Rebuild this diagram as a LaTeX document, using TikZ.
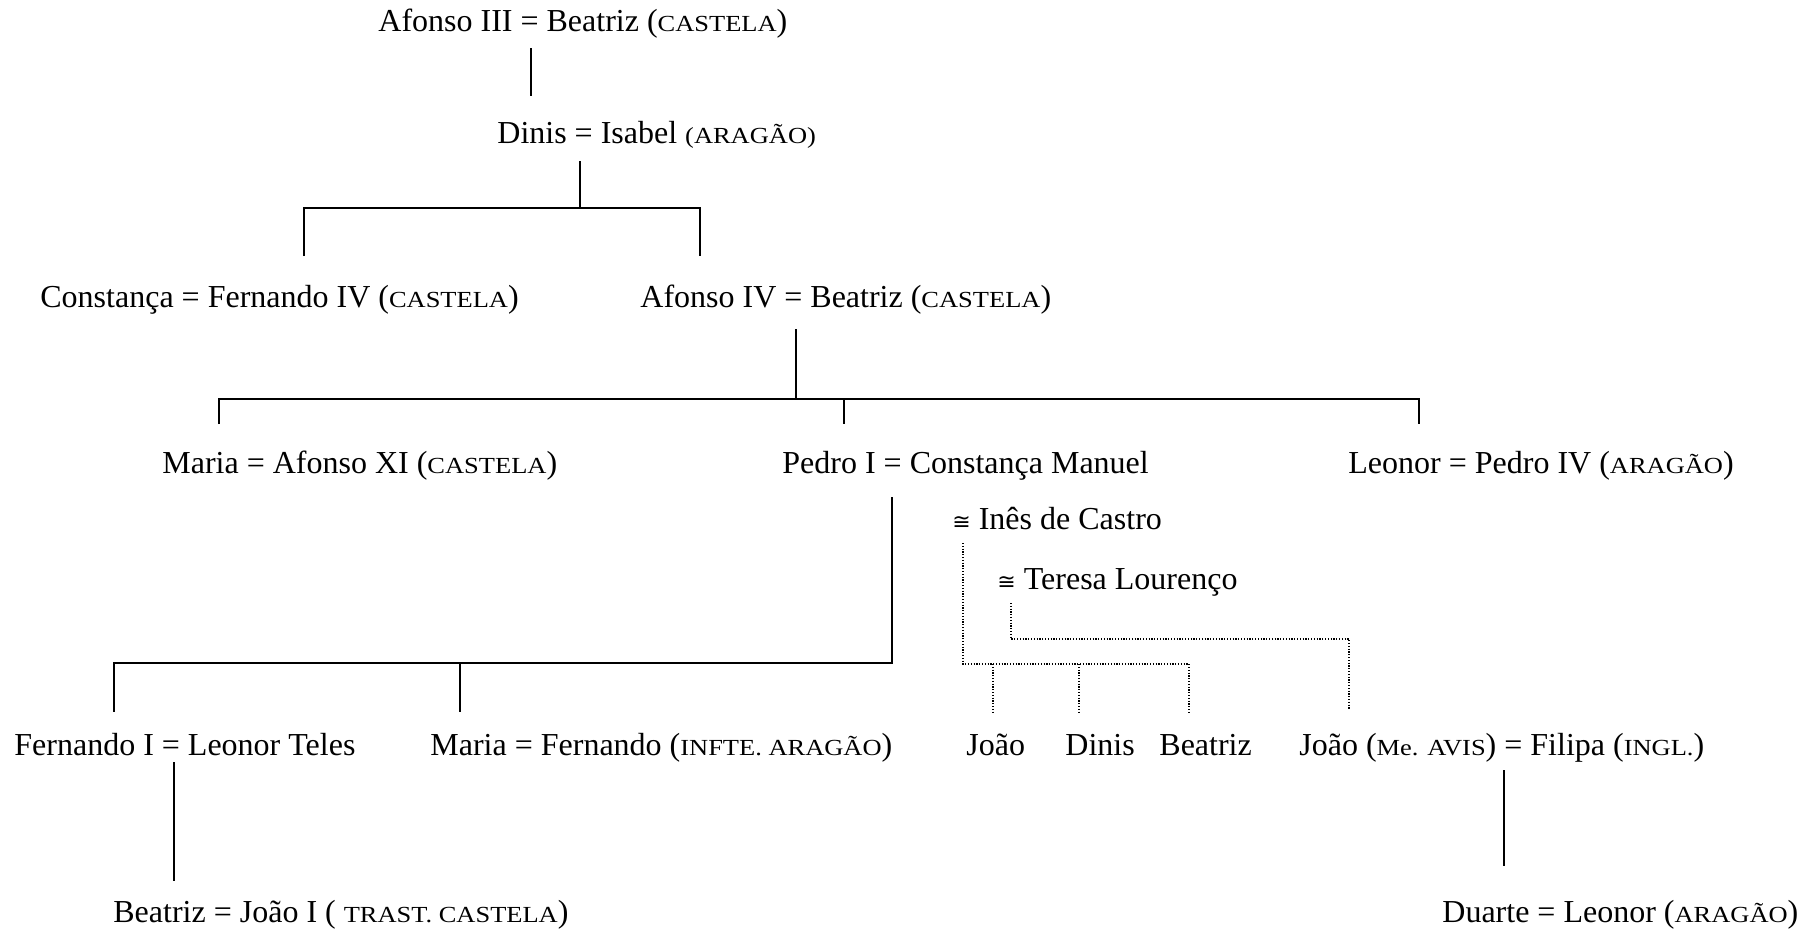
\documentclass[tikz,border=0pt]{standalone}
\usepackage{fontspec}
\usepackage{graphicx}
\setmainfont{Liberation Serif}
\newfontfamily\djv{DejaVu Sans}
\newcommand{\sml}[1]{\scalebox{1.15}[1]{\fontsize{11.5}{13}\selectfont #1}}
\newcommand{\cng}{{\djv\fontsize{11}{13}\selectfont ≅}}
\begin{document}
\begin{tikzpicture}[x=0.5pt,y=-0.5pt,
  nm/.style={anchor=base west,inner sep=0pt,font=\fontsize{16}{19}\selectfont},
  ln/.style={line width=0.65pt},
  dl/.style={line width=0.65pt,dash pattern=on 0.6pt off 0.8pt}]
\useasboundingbox (0,0) rectangle (1811,928);
% nodes
\node[nm] (a3) at (378,31) {Afonso III = Beatriz (\sml{CASTELA})};
\node[nm] (din) at (497,143) {Dinis = Isabel \sml{(ARAGÃO)}};
\node[nm] (con) at (40,307) {Constança = Fernando IV (\sml{CASTELA})};
\node[nm] (a4) at (640,307) {Afonso IV = Beatriz (\sml{CASTELA})};
\node[nm] (mar) at (162,473) {Maria = Afonso XI (\sml{CASTELA})};
\node[nm] (ped) at (782,473) {Pedro I = Constança Manuel};
\node[nm] (leo) at (1348,473) {Leonor = Pedro IV (\sml{ARAGÃO})};
\node[nm] (ines) at (952,529) {\cng\ Inês de Castro};
\node[nm] (ter) at (997,589) {\cng\ Teresa Lourenço};
\node[nm] (fer) at (14,755) {Fernando I = Leonor Teles};
\node[nm] (mar2) at (430,755) {Maria = Fernando (\sml{INFTE. ARAGÃO})};
\node[nm] (jo) at (966,755) {João};
\node[nm] (di) at (1065,755) {Dinis};
\node[nm] (be) at (1159,755) {Beatriz};
\node[nm] (jav) at (1299,755) {João (\sml{Me. AVIS}) = Filipa (\sml{INGL.})};
\node[nm] (bea2) at (113,922) {Beatriz = João I ( \sml{TRAST. CASTELA})};
\node[nm] (dua) at (1442,922) {Duarte = Leonor (\sml{ARAGÃO})};
% junction coordinates
\coordinate (c1a) at (531,48);  \coordinate (c1b) at (531,96);
\coordinate (c2a) at (580,161); \coordinate (c2b) at (580,208);
\coordinate (c2l) at (304,208); \coordinate (c2r) at (700,208);
\coordinate (c2lb) at (304,256); \coordinate (c2rb) at (700,256);
\coordinate (c3a) at (796,329); \coordinate (c3b) at (796,399);
\coordinate (c3l) at (219,399); \coordinate (c3m) at (844,399); \coordinate (c3r) at (1419,399);
\coordinate (c3lb) at (219,424); \coordinate (c3mb) at (844,424); \coordinate (c3rb) at (1419,424);
\coordinate (c4a) at (892,497); \coordinate (c4b) at (892,663);
\coordinate (c4l) at (114,663); \coordinate (c4m) at (460,663);
\coordinate (c4lb) at (114,712); \coordinate (c4mb) at (460,712);
\coordinate (c5a) at (174,762); \coordinate (c5b) at (174,881);
\coordinate (c6a) at (1504,770); \coordinate (c6b) at (1504,866);
\coordinate (d1a) at (963,543); \coordinate (d1b) at (963,664); \coordinate (d1r) at (1189,664);
\coordinate (d1j) at (993,664); \coordinate (d1d) at (1079,664);
\coordinate (d1jb) at (993,712); \coordinate (d1db) at (1079,712); \coordinate (d1rb) at (1189,712);
\coordinate (d2a) at (1011,603); \coordinate (d2b) at (1011,639);
\coordinate (d2c) at (1349,639); \coordinate (d2d) at (1349,709);
% solid connectors
\draw[ln] (c1a) -- (c1b);
\draw[ln] (c2a) -- (c2b);
\draw[ln] (c2lb) -- (c2l) -- (c2r) -- (c2rb);
\draw[ln] (c3a) -- (c3b);
\draw[ln] (c3lb) -- (c3l) -- (c3r) -- (c3rb);
\draw[ln] (c3m) -- (c3mb);
\draw[ln] (c4a) -- (c4b) -- (c4l) -- (c4lb);
\draw[ln] (c4m) -- (c4mb);
\draw[ln] (c5a) -- (c5b);
\draw[ln] (c6a) -- (c6b);
% dotted connectors
\draw[dl] (d1a) -- (d1b) -- (d1r) -- (d1rb);
\draw[dl] (d1j) -- (d1jb);
\draw[dl] (d1d) -- (d1db);
\draw[dl] (d2a) -- (d2b) -- (d2c) -- (d2d);
\end{tikzpicture}
\end{document}
